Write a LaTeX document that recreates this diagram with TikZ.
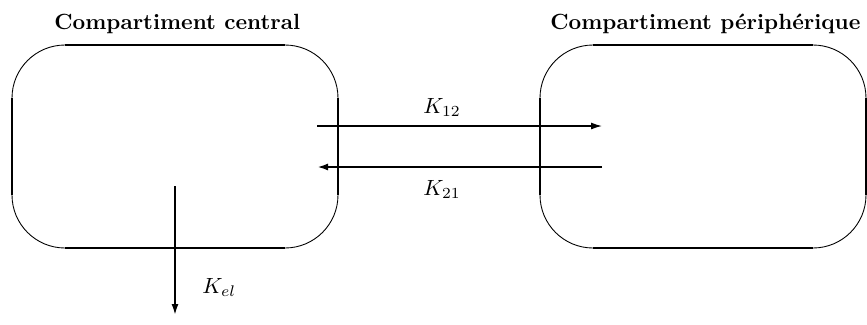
\documentclass[tikz,border=0pt]{standalone}
\usetikzlibrary{arrows.meta}
\begin{document}
\begin{tikzpicture}[x=0.4545pt,y=-0.4545pt,
  edge/.style={line width=0.8pt},
  vedge/.style={line width=1.1pt},
  corner/.style={line width=0.4pt},
  flow/.style={-{Latex[length=5pt,width=3.2pt]}},
  title/.style={font=\bfseries,inner sep=0pt,anchor=base west},
  lbl/.style={inner sep=0pt,anchor=base west}]
\useasboundingbox (0,0) rectangle (867,324);
% compartments
\foreach \ox/\nm in {12/cc,540/cp}{
  \begin{scope}[shift={(\ox,0)}]
    \node[inner sep=0pt,minimum width=148.2pt,minimum height=92.3pt,anchor=north west] (\nm) at (0,45) {};
    \draw[corner,rounded corners=24.1pt] (0,45) rectangle (326,248);
    \draw[vedge] (0,98) -- (0,195);
    \draw[vedge] (326,98) -- (326,195);
    \draw[edge] (53,45) -- (273,45);
    \draw[edge] (53,248) -- (273,248);
  \end{scope}
}
% titles
\node[title] (t1) at (54,29) {Compartiment central};
\node[title] (t2) at (550,29) {Compartiment périphérique};
% arrows
\coordinate (a1) at (317,126);
\coordinate (b1) at (602,126);
\coordinate (a2) at (602,167);
\coordinate (b2) at (317,167);
\coordinate (e1) at (175,186);
\coordinate (e2) at (175,315);
\draw[flow,line width=0.6pt] (a1) -- (b1);
\draw[flow,line width=1pt] (a2) -- (b2);
\draw[flow,line width=0.85pt] (e1) -- (e2);
% labels
\node[lbl] (k12) at (423,113) {$K_{12}$};
\node[lbl] (k21) at (423,195) {$K_{21}$};
\node[lbl] (kel) at (202,293) {$K_{el}$};
\end{tikzpicture}
\end{document}
